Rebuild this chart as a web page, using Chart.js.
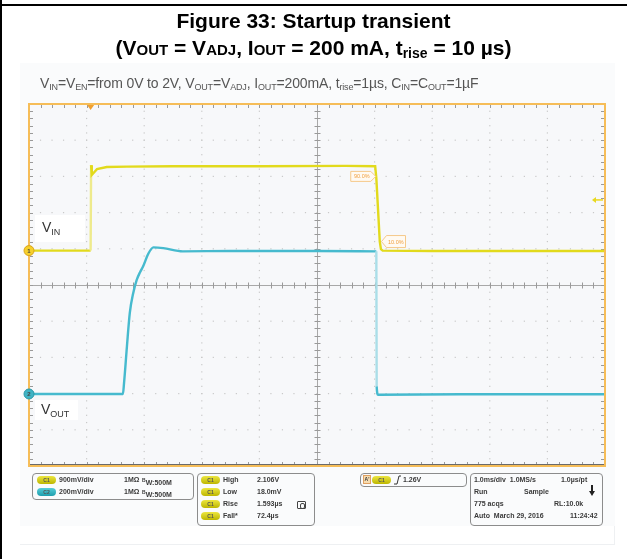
<!DOCTYPE html>
<html><head><meta charset="utf-8">
<script src="https://cdn.jsdelivr.net/npm/chart.js@4/dist/chart.umd.min.js"></script>
<style>
html,body{margin:0;padding:0;background:#fff;}
#wrap{position:relative;width:627px;height:559px;overflow:hidden;font-family:"Liberation Sans",Arial,sans-serif;}
.a{position:absolute;white-space:nowrap;}
.t1{left:0;width:627px;text-align:center;font-weight:bold;color:#000;}
.sc{font-size:15px;}
.sub{font-size:9px;vertical-align:-2px;}
.box{position:absolute;border:1px solid #8c8c8c;border-radius:4px;box-sizing:border-box;}
.s{position:absolute;white-space:nowrap;font-size:7px;font-weight:bold;color:#3a3a3a;line-height:8px;}
.pill{position:absolute;width:19px;height:8px;border-radius:5px;font-size:5px;line-height:8px;text-align:center;color:#555;font-weight:bold;}
.py{background:linear-gradient(#ece640,#bdb600);}
.pc{background:linear-gradient(#55cdd8,#1f9fae);}
.lbl{position:absolute;background:#fff;color:#333;font-size:14px;}
.lbl sub{font-size:9px;vertical-align:-3px;}
.pct{position:absolute;font-size:5.5px;color:#f0a040;line-height:8px;}
.mk{position:absolute;font-size:6px;font-weight:bold;color:#444;width:10px;text-align:center;line-height:10px;}
</style></head><body>
<div id="wrap">
  <div class="a" style="left:20px;top:63px;width:595px;height:482px;background:#fff;border-right:1px solid #eef0f2;border-bottom:1px solid #eef0f2;box-sizing:border-box;"></div>
  <div class="a" style="left:20px;top:63px;width:595px;height:463px;background:#fafbfc;"></div>
  <div class="a" style="left:0;top:0;width:2px;height:559px;background:#000"></div>
  <div class="a" style="left:0;top:4px;width:627px;height:2px;background:#000"></div>
  <canvas id="c" width="627" height="559" class="a" style="left:0;top:0;width:627px;height:559px"></canvas>

  <div class="a t1" style="top:9px;font-size:21px;">Figure 33: Startup transient</div>
  <div class="a t1" style="top:36px;font-size:21px;">(V<span class="sc">OUT</span> = V<span class="sc">ADJ</span>, I<span class="sc">OUT</span> = 200 mA, t<span style="font-size:14px;vertical-align:-3px">rise</span> = 10 µs)</div>
  <div class="a" style="left:40px;top:75px;font-size:14px;color:#555;letter-spacing:-0.15px;">V<span class="sub">IN</span>=V<span class="sub">EN</span>=from 0V to 2V, V<span class="sub">OUT</span>=V<span class="sub">ADJ</span>, I<span class="sub">OUT</span>=200mA, t<span class="sub">rise</span>=1µs, C<span class="sub">IN</span>=C<span class="sub">OUT</span>=1µF</div>

  <div class="lbl" style="left:35px;top:215px;width:50px;height:27px;"><span style="position:absolute;left:7px;top:4px">V<sub>IN</sub></span></div>
  <div class="lbl" style="left:35px;top:400px;width:43px;height:20px;"><span style="position:absolute;left:6px;top:1px">V<sub>OUT</sub></span></div>

  <div class="mk" style="left:24px;top:246px;">1</div>
  <div class="mk" style="left:24px;top:389px;">2</div>
  <div class="pct" style="left:354px;top:172px;">90.0%</div>
  <div class="pct" style="left:388px;top:238px;">10.0%</div>

  <div class="box" style="left:32px;top:473px;width:162px;height:27px;"></div>
  <div class="pill py" style="left:37px;top:476px;">C1</div>
  <div class="s" style="left:59px;top:476px;">900mV/div</div>
  <div class="s" style="left:124px;top:476px;">1MΩ</div>
  <div class="s" style="left:142px;top:476px;"><span style="font-size:5px;vertical-align:3px">B</span>W:500M</div>
  <div class="pill pc" style="left:37px;top:488px;">C2</div>
  <div class="s" style="left:59px;top:488px;">200mV/div</div>
  <div class="s" style="left:124px;top:488px;">1MΩ</div>
  <div class="s" style="left:142px;top:488px;"><span style="font-size:5px;vertical-align:3px">B</span>W:500M</div>

  <div class="box" style="left:197px;top:473px;width:118px;height:53px;"></div>
  <div class="pill py" style="left:201px;top:476px;">C1</div>
  <div class="s" style="left:223px;top:476px;">High</div>
  <div class="s" style="left:257px;top:476px;">2.106V</div>
  <div class="pill py" style="left:201px;top:488px;">C1</div>
  <div class="s" style="left:223px;top:488px;">Low</div>
  <div class="s" style="left:257px;top:488px;">18.0mV</div>
  <div class="pill py" style="left:201px;top:500px;">C1</div>
  <div class="s" style="left:223px;top:500px;">Rise</div>
  <div class="s" style="left:257px;top:500px;">1.593µs</div>
  <div class="a" style="left:297px;top:501px;width:9px;height:8px;border:1px solid #444;border-radius:1px;box-sizing:border-box;"><div style="position:absolute;left:2px;top:1px;width:3px;height:4px;border:1px solid #444;border-radius:2px;"></div></div>
  <div class="pill py" style="left:201px;top:512px;">C1</div>
  <div class="s" style="left:223px;top:512px;">Fall*</div>
  <div class="s" style="left:257px;top:512px;">72.4µs</div>

  <div class="box" style="left:360px;top:473px;width:107px;height:14px;"></div>
  <div class="s" style="left:363px;top:475px;width:8px;height:9px;background:#f7dcb0;border:1px solid #e0a060;box-sizing:border-box;font-size:5px;line-height:7px;text-align:center;">A'</div>
  <div class="pill py" style="left:372px;top:476px;">C1</div>
  <svg class="a" style="left:393px;top:475px" width="8" height="10"><polyline points="1,9 4,9 6,1 8,1" fill="none" stroke="#333" stroke-width="1"/></svg>
  <div class="s" style="left:403px;top:476px;">1.26V</div>

  <div class="box" style="left:470px;top:473px;width:133px;height:53px;"></div>
  <div class="s" style="left:474px;top:476px;">1.0ms/div&nbsp; 1.0MS/s</div>
  <div class="s" style="left:561px;top:476px;">1.0µs/pt</div>
  <div class="s" style="left:474px;top:488px;">Run</div>
  <div class="s" style="left:524px;top:488px;">Sample</div>
  <svg class="a" style="left:589px;top:485px" width="6" height="12"><rect x="2" y="0" width="2" height="7" fill="#222"/><polygon points="0,6 6,6 3,11" fill="#222"/></svg>
  <div class="s" style="left:474px;top:500px;">775 acqs</div>
  <div class="s" style="left:554px;top:500px;">RL:10.0k</div>
  <div class="s" style="left:474px;top:512px;">Auto&nbsp; March 29, 2016</div>
  <div class="s" style="left:570px;top:512px;">11:24:42</div>
</div>
<script>
// Time in divisions (1.0 ms/div), levels in vertical divisions (0 = bottom of screen)
const tVin  = [0, 1.07, 1.078, 1.09, 1.18, 1.35, 1.7, 2.5, 4.0, 5.5, 6.01, 6.03, 6.09, 6.11, 6.14, 7.0, 8.5, 10];
const vVin  = [5.95, 5.95, 8.31, 8.04, 8.20, 8.26, 8.27, 8.28, 8.28, 8.29, 8.28, 7.95, 6.20, 5.99, 5.95, 5.94, 5.94, 5.94];
const tVout = [0, 1.63, 1.65, 1.70, 1.75, 1.81, 1.87, 1.93, 1.98, 2.07, 2.16, 2.33, 2.67, 3.5, 5.0, 6.03, 6.036, 6.06, 7.5, 10];
const vVout = [1.99, 1.99, 2.29, 3.30, 4.23, 4.78, 5.14, 5.36, 5.51, 5.86, 6.04, 6.02, 5.93, 5.94, 5.94, 5.93, 2.20, 1.97, 1.98, 1.98];
const xDivs = [0,1,2,3,4,5,6,7,8,9,10];
const yDivs = [0,1,2,3,4,5,6,7,8,9,10];
const ch1Ground = 5.95, ch2Ground = 1.99, triggerTime = 1.07, triggerLevel = 7.35;
const level90 = 8.0, level10 = 6.2, t90 = 6.02, t10 = 6.12;

const YEL = 'rgb(226,218,28)', YEL_L = 'rgb(238,234,140)';
const CYN = 'rgb(70,186,206)', CYN_L = 'rgb(170,222,232)';

function steep(c, light){
  const dx = Math.max(Math.abs(c.p1.x - c.p0.x), 0.5), dy = Math.abs(c.p1.y - c.p0.y);
  return dy > 20*dx ? light : undefined;
}

const scope = {
  id: 'scope',
  beforeDatasetsDraw(chart){
    const {ctx, chartArea:a, scales:{x, y}} = chart;
    ctx.save();
    ctx.fillStyle = '#f7f8fa';
    ctx.fillRect(a.left, a.top, a.right-a.left, a.bottom-a.top);
    ctx.fillStyle = '#c9c9c9';
    xDivs.forEach(g => {
      if (g===0 || g===10 || g===5) return;
      const px = x.getPixelForValue(g);
      for (let m=1; m<50; m++){ const py = y.getPixelForValue(m/5); ctx.fillRect(px-0.6, py-0.6, 1.2, 1.2); }
    });
    yDivs.forEach(g => {
      if (g===0 || g===10 || g===5) return;
      const py = y.getPixelForValue(g);
      for (let m=1; m<50; m++){ const px = x.getPixelForValue(m/5); ctx.fillRect(px-0.6, py-0.6, 1.2, 1.2); }
    });
    ctx.strokeStyle = '#a8a8a8'; ctx.lineWidth = 1;
    const cx = Math.round(x.getPixelForValue(5))+0.5, cy = Math.round(y.getPixelForValue(5))+0.5;
    ctx.beginPath(); ctx.moveTo(cx, a.top); ctx.lineTo(cx, a.bottom); ctx.moveTo(a.left, cy); ctx.lineTo(a.right, cy); ctx.stroke();
    ctx.strokeStyle = '#9a9a9a';
    ctx.beginPath();
    for (let m=1; m<50; m++){
      const px = Math.round(x.getPixelForValue(m/5))+0.5;
      ctx.moveTo(px, cy-3); ctx.lineTo(px, cy+3);
      ctx.moveTo(px, a.top); ctx.lineTo(px, a.top+4);
      ctx.moveTo(px, a.bottom); ctx.lineTo(px, a.bottom-4);
      const py = Math.round(y.getPixelForValue(m/5))+0.5;
      ctx.moveTo(cx-3, py); ctx.lineTo(cx+3, py);
      ctx.moveTo(a.left, py); ctx.lineTo(a.left+4, py);
      ctx.moveTo(a.right, py); ctx.lineTo(a.right-4, py);
    }
    ctx.stroke();
    ctx.restore();
  },
  afterDatasetsDraw(chart){
    const {ctx, chartArea:a, scales:{x, y}} = chart;
    ctx.save();
    ctx.strokeStyle = '#6a6a6a'; ctx.lineWidth = 1;
    ctx.beginPath(); ctx.moveTo(a.left, a.bottom-1.5); ctx.lineTo(a.right, a.bottom-1.5); ctx.stroke();
    ctx.strokeStyle = '#f6bd58'; ctx.lineWidth = 2;
    ctx.strokeRect(a.left, a.top, a.right-a.left, a.bottom-a.top);
    const tx = x.getPixelForValue(triggerTime);
    ctx.fillStyle = '#f0a030';
    ctx.beginPath(); ctx.moveTo(tx-3.5, a.top+1); ctx.lineTo(tx+3.5, a.top+1); ctx.lineTo(tx, a.top+6); ctx.closePath(); ctx.fill();
    const ty = y.getPixelForValue(triggerLevel);
    ctx.strokeStyle = '#e8d820'; ctx.fillStyle = '#e8d820'; ctx.lineWidth = 1.5;
    ctx.beginPath(); ctx.moveTo(a.right-2, ty); ctx.lineTo(a.right-10, ty); ctx.stroke();
    ctx.beginPath(); ctx.moveTo(a.right-13, ty); ctx.lineTo(a.right-9, ty-3); ctx.lineTo(a.right-9, ty+3); ctx.closePath(); ctx.fill();
    const g1 = y.getPixelForValue(ch1Ground), g2 = y.getPixelForValue(ch2Ground);
    ctx.lineWidth = 1;
    ctx.fillStyle = '#f5cf2a'; ctx.strokeStyle = '#d9a21a';
    ctx.beginPath(); ctx.arc(a.left, g1, 5, 0, Math.PI*2); ctx.fill(); ctx.stroke();
    ctx.fillStyle = '#3fb3c4'; ctx.strokeStyle = '#2a98a8';
    ctx.beginPath(); ctx.arc(a.left, g2, 5, 0, Math.PI*2); ctx.fill(); ctx.stroke();
    ctx.strokeStyle = '#f5c98a'; ctx.fillStyle = '#fffaf2'; ctx.lineWidth = 1;
    const p90x = x.getPixelForValue(t90), p90y = y.getPixelForValue(level90);
    ctx.beginPath();
    ctx.moveTo(p90x-25, p90y-5); ctx.lineTo(p90x-5, p90y-5); ctx.lineTo(p90x, p90y); ctx.lineTo(p90x-5, p90y+5); ctx.lineTo(p90x-25, p90y+5); ctx.closePath();
    ctx.fill(); ctx.stroke();
    const p10x = x.getPixelForValue(t10), p10y = y.getPixelForValue(level10);
    ctx.beginPath();
    ctx.moveTo(p10x, p10y); ctx.lineTo(p10x+5, p10y-6); ctx.lineTo(p10x+24, p10y-6); ctx.lineTo(p10x+24, p10y+6); ctx.lineTo(p10x+5, p10y+6); ctx.closePath();
    ctx.fill(); ctx.stroke();
    ctx.restore();
  }
};

new Chart(document.getElementById('c'), {
  type: 'scatter',
  data: {
    datasets: [
      { label: 'VOUT', data: tVout.map((t,i)=>({x:t, y:vVout[i]})), showLine: true, borderColor: CYN, borderWidth: 2.4, pointRadius: 0,
        cubicInterpolationMode: 'monotone',
        segment: { borderColor: c => steep(c, CYN_L) } },
      { label: 'VIN', data: tVin.map((t,i)=>({x:t, y:vVin[i]})), showLine: true, borderColor: YEL, borderWidth: 2.4, pointRadius: 0, tension: 0,
        segment: { borderColor: c => steep(c, YEL_L) } }
    ]
  },
  options: {
    responsive: false, animation: false, devicePixelRatio: 1,
    layout: { padding: { left: 29, top: 104, right: 22, bottom: 93 } },
    scales: {
      x: { type: 'linear', min: 0, max: 10, display: false },
      y: { type: 'linear', min: 0, max: 10, display: false }
    },
    plugins: { legend: { display: false }, tooltip: { enabled: false } }
  },
  plugins: [scope]
});
</script>
</body></html>
